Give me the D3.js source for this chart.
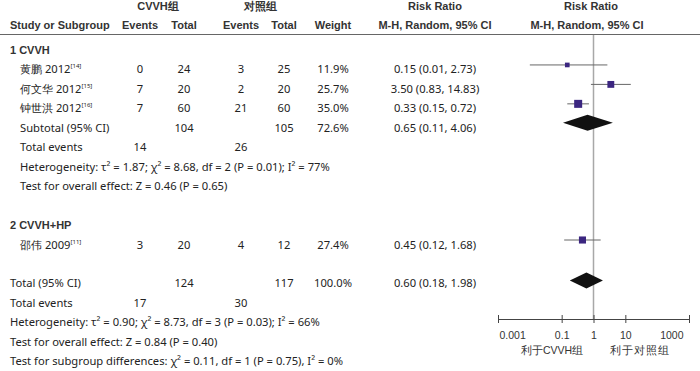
<!DOCTYPE html>
<html><head><meta charset="utf-8">
<script src="https://cdn.jsdelivr.net/npm/d3@7"></script>
<style>
body{margin:0;background:#fff;}
svg{display:block;}
.hd{font-family:"Liberation Sans",Arial,sans-serif;font-weight:bold;font-size:11px;fill:#333;}
.tx{font-family:"Noto Sans","Open Sans",sans-serif;font-size:11.2px;fill:#222;}
.ax{font-family:"Liberation Sans",Arial,sans-serif;font-size:10.5px;fill:#333;}
</style></head>
<body><svg id="c" width="700" height="371"></svg>
<script>
const studies = ["黄鹏 2012", "何文华 2012", "钟世洪 2012", "邵伟 2009"];
const refs = ["[14]", "[15]", "[16]", "[11]"];
const events1 = [0, 7, 7, 3];
const total1 = [24, 20, 60, 20];
const events2 = [3, 2, 21, 4];
const total2 = [25, 20, 60, 12];
const weights = [11.9, 25.7, 35.0, 27.4];
const rr = [0.15, 3.50, 0.33, 0.45];
const rrLo = [0.01, 0.83, 0.15, 0.12];
const rrHi = [2.73, 14.83, 0.72, 1.68];
const groupNames = ["1 CVVH", "2 CVVH+HP"];
const subTotal1 = [104], subTotal2 = [105], subWeight = [72.6];
const subRR = [0.65], subLo = [0.11], subHi = [4.06];
const subEvents1 = [14], subEvents2 = [26];
const subHet = ["Heterogeneity: τ² = 1.87; χ² = 8.68, df = 2 (P = 0.01); I² = 77%"];
const subTest = ["Test for overall effect: Z = 0.46 (P = 0.65)"];
const allTotal1 = 124, allTotal2 = 117, allWeight = 100.0;
const allRR = 0.60, allLo = 0.18, allHi = 1.98;
const allEvents1 = 17, allEvents2 = 30;
const allHet = "Heterogeneity: τ² = 0.90; χ² = 8.73, df = 3 (P = 0.03); I² = 66%";
const allTest = "Test for overall effect: Z = 0.84 (P = 0.40)";
const subgroupTest = "Test for subgroup differences: χ² = 0.11, df = 1 (P = 0.75), I² = 0%";
const axisTicks = [0.001, 0.1, 1, 10, 1000];
const axisLabels = ["0.001", "0.1", "1", "10", "1000"];
const favourLabels = ["利于CVVH组", "利于对照组"];

const svg = d3.select("#c");
const x = d3.scaleLog().domain([0.001, 1000]).range([498, 689]);
const rowY = i => 50 + i * 19.45;
const size = d3.scaleSqrt().domain([0, 35]).range([0, 8]);
const fmt2 = d3.format(".2f");
const ciText = (r, l, h) => `${fmt2(r)} (${fmt2(l)}, ${fmt2(h)})`;

// headers
svg.append("text").attr("class","hd").attr("x",158).attr("y",10).attr("text-anchor","middle").text("CVVH组");
svg.append("text").attr("class","hd").attr("x",260).attr("y",10).attr("text-anchor","middle").text("对照组");
svg.append("text").attr("class","hd").attr("x",435).attr("y",10).attr("text-anchor","middle").text("Risk Ratio");
svg.append("text").attr("class","hd").attr("x",591).attr("y",10).attr("text-anchor","middle").text("Risk Ratio");
const h2 = [["Study or Subgroup",10,"start"],["Events",140,"middle"],["Total",184,"middle"],["Events",241,"middle"],["Total",284,"middle"],["Weight",333,"middle"],["M-H, Random, 95% CI",435,"middle"],["M-H, Random, 95% CI",587,"middle"]];
h2.forEach(h => svg.append("text").attr("class","hd").attr("x",h[1]).attr("y",29).attr("text-anchor",h[2]).text(h[0]));
svg.append("line").attr("x1",0).attr("x2",700).attr("y1",34.5).attr("y2",34.5).attr("stroke","#666").attr("stroke-width",1);

// reference line
svg.append("line").attr("x1",x(1)).attr("x2",x(1)).attr("y1",35).attr("y2",319).attr("stroke","#a8a8a8").attr("stroke-width",1.5);

// row layout
const rows = [];
rows.push({t:"group", g:0});
[0,1,2].forEach(i => rows.push({t:"study", i}));
rows.push({t:"sub", g:0});
rows.push({t:"subev", g:0});
rows.push({t:"subhet", g:0});
rows.push({t:"subtest", g:0});
rows.push({t:"blank"});
rows.push({t:"group", g:1});
rows.push({t:"study", i:3});
rows.push({t:"blank"});
rows.push({t:"all"});
rows.push({t:"allev"});
rows.push({t:"allhet"});
rows.push({t:"alltest"});
rows.push({t:"subgroup"});

const txt = (xx, yy, s, anchor, cls) => svg.append("text").attr("class", cls || "tx").attr("x", xx).attr("y", yy + 4).attr("text-anchor", anchor || "middle").text(s);

const diamond = (r, l, h, cy) => {
  const p = d3.path();
  p.moveTo(x(l), cy); p.lineTo(x(r), cy - 8); p.lineTo(x(h), cy); p.lineTo(x(r), cy + 8); p.closePath();
  svg.append("path").attr("d", p.toString()).attr("fill", "#111");
};

rows.forEach((r, k) => {
  const y = rowY(k);
  if (r.t === "group") { txt(10, y, groupNames[r.g], "start", "hd"); }
  if (r.t === "study") {
    const i = r.i;
    const t = svg.append("text").attr("class","tx").attr("x",20).attr("y",y+4);
    t.append("tspan").text(studies[i]);
    t.append("tspan").attr("font-size","6px").attr("dy","-5").text(refs[i]);
    txt(140, y, events1[i]); txt(184, y, total1[i]);
    txt(241, y, events2[i]); txt(284, y, total2[i]);
    txt(333, y, weights[i].toFixed(1) + "%");
    txt(435, y, ciText(rr[i], rrLo[i], rrHi[i]));
    const cy = y - 4.5;
    svg.append("line").attr("x1", x(rrLo[i])).attr("x2", x(rrHi[i])).attr("y1", cy).attr("y2", cy).attr("stroke","#666").attr("stroke-width",1);
    const s = size(weights[i]);
    svg.append("rect").attr("x", x(rr[i]) - s/2).attr("y", cy - s/2).attr("width", s).attr("height", s).attr("fill","#3b2680");
  }
  if (r.t === "sub") {
    txt(20, y, "Subtotal (95% CI)", "start");
    txt(184, y, subTotal1[r.g]); txt(284, y, subTotal2[r.g]);
    txt(333, y, subWeight[r.g].toFixed(1) + "%");
    txt(435, y, ciText(subRR[r.g], subLo[r.g], subHi[r.g]));
    diamond(subRR[r.g], subLo[r.g], subHi[r.g], y - 5);
  }
  if (r.t === "subev") { txt(20, y, "Total events", "start"); txt(140, y, subEvents1[r.g]); txt(241, y, subEvents2[r.g]); }
  if (r.t === "subhet") txt(20, y, subHet[r.g], "start");
  if (r.t === "subtest") txt(20, y, subTest[r.g], "start");
  if (r.t === "all") {
    txt(10, y, "Total (95% CI)", "start");
    txt(184, y, allTotal1); txt(284, y, allTotal2);
    txt(333, y, allWeight.toFixed(1) + "%");
    txt(435, y, ciText(allRR, allLo, allHi));
    diamond(allRR, allLo, allHi, y - 3);
  }
  if (r.t === "allev") { txt(10, y, "Total events", "start"); txt(140, y, allEvents1); txt(241, y, allEvents2); }
  if (r.t === "allhet") txt(10, y, allHet, "start");
  if (r.t === "alltest") txt(10, y, allTest, "start");
  if (r.t === "subgroup") txt(10, y, subgroupTest, "start");
});

// axis
const ax = svg.append("g").attr("transform", "translate(0,319)")
  .call(d3.axisBottom(x).tickValues(axisTicks).tickFormat((d, i) => axisLabels[i]).tickSizeInner(4).tickSizeOuter(0));
ax.attr("font-size", null).attr("font-family", null);
ax.select(".domain").attr("stroke", "#444");
ax.selectAll(".tick line").attr("y1", -4).attr("y2", 4).attr("stroke", "#444");
const n = axisTicks.length;
ax.selectAll(".tick text").attr("class", "ax").attr("y", 13)
  .attr("text-anchor", (d, i) => i === 0 ? "start" : (i === n - 1 ? "end" : "middle"))
  .attr("dx", (d, i) => i === 0 ? 1 : (i === n - 1 ? -6 : 0));
txt(552, 350, favourLabels[0], "middle", "ax").attr("font-size", "11px");
txt(640, 350, favourLabels[1], "middle", "ax").attr("font-size", "11px").attr("letter-spacing", "1px");
</script></body></html>
